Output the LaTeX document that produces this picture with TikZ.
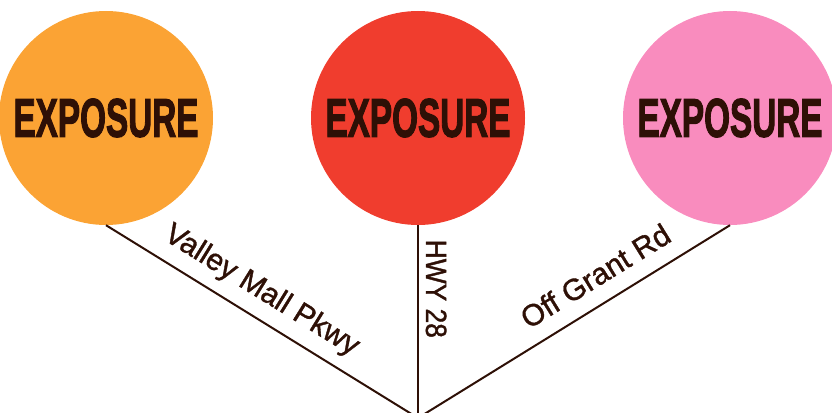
\documentclass[tikz,border=0pt]{standalone}
\usepackage{graphicx}
\usepackage{fontspec}
\setmainfont{Liberation Sans}
\newfontfamily\roadfont{Liberation Sans}[FakeBold=1.2]
\newfontfamily\hwyfont{Liberation Sans}[FakeBold=1.2, FakeStretch=0.9]
\newfontfamily\expofont{Liberation Sans}[BoldFeatures={FakeBold=2.5}]
\definecolor{spotorange}{RGB}{251,163,52}
\definecolor{spotred}{RGB}{240,61,46}
\definecolor{spotpink}{RGB}{249,140,190}
\definecolor{roadbrown}{RGB}{46,16,6}
\newcommand{\expo}{\resizebox{185pt}{38pt}{\expofont\bfseries EXPOSURE}}

\begin{document}
\begin{tikzpicture}[x=1pt, y=-1pt,
  spot/.style={circle, minimum size=214pt, inner sep=0pt, text=roadbrown},
  road/.style={draw=roadbrown, line width=2pt},
  roadname/.style={sloped, inner sep=0pt, text depth=0pt, text=roadbrown,
    font={\roadfont\fontsize{30}{32}\selectfont}}]
  % Frame
  \useasboundingbox (0,0) rectangle (832,412);
  \clip (0,0) rectangle (832,412);

  % Coordinates
  \coordinate (hub) at (418,418);

  % Drawing
  \node[spot, fill=spotorange] (mall) at (106,118) {\expo};
  \node[spot, fill=spotred] (hwy) at (418,118) {\expo};
  \node[spot, fill=spotpink] (grant) at (730,118) {\expo};
  \draw[road] (mall.south) -- node[roadname, above=17pt, pos=0.455] (mallname) {Valley Mall Pkwy} (hub);
  \draw[road] (hwy.south) -- node[roadname, above=7pt, pos=0.33, font={\hwyfont\fontsize{29.3}{32}\selectfont}] (hwyname) {HWY 28} (hub);
  \draw[road] (hub) -- node[roadname, above=16pt, pos=0.615] (grantname) {Off Grant Rd} (grant.south);
\end{tikzpicture}
\end{document}
